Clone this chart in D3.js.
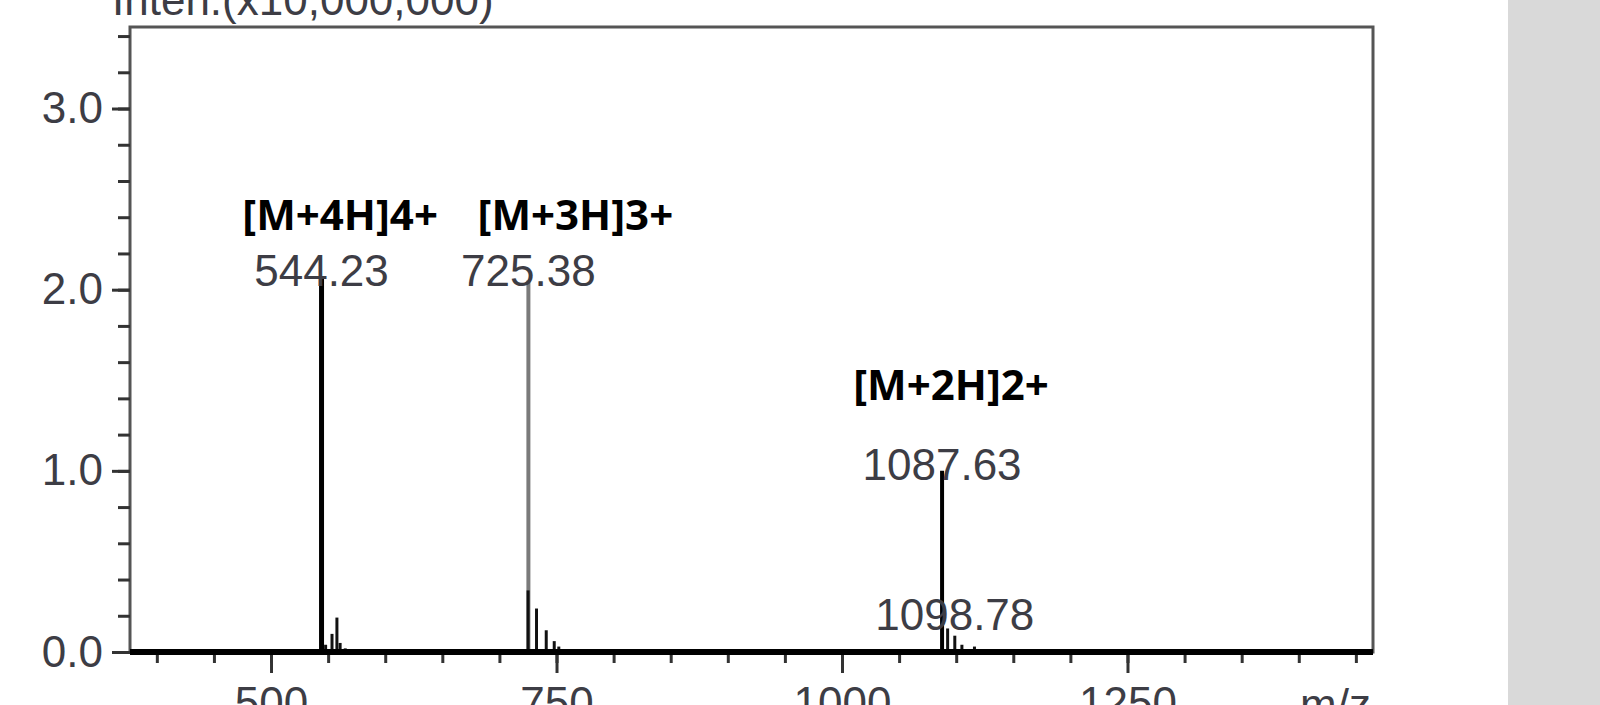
<!DOCTYPE html>
<html>
<head>
<meta charset="utf-8">
<script src="https://cdn.jsdelivr.net/npm/d3@7"></script>
<style>
  html, body { margin: 0; padding: 0; background: #fff; overflow: hidden; }
  svg { display: block; }
</style>
</head>
<body>
<div id="chart"></div>
<script>
// spectrum sticks (m/z, intensity in units of 10,000,000)
const mainMz = [544.23, 725.38, 1087.63];
const mainInten = [2.07, 2.05, 1.0];

const minorMz = [547.8, 553.4, 557.7, 560.5, 565.0,
                 725.1, 732.5, 741.0, 748.0, 752.0,
                 1092.5, 1098.78, 1105.0, 1116.0];
const minorInten = [0.04, 0.1, 0.19, 0.05, 0.02,
                    0.34, 0.24, 0.12, 0.06, 0.03,
                    0.13, 0.09, 0.04, 0.03];

// peak labels (m/z text, height of baseline in data units)
const peakLabelMz = [544.23, 725.38, 1087.63, 1098.78];
const peakLabelText = ["544.23", "725.38", "1087.63", "1098.78"];
const peakLabelAt = [2.02, 2.02, 0.95, 0.12];

// ion annotations
const ionText = ["[M+4H]4+", "[M+3H]3+", "[M+2H]2+"];
const ionMz = [560.5, 766.5, 1095.5];
const ionAt = [2.33, 2.33, 1.39];

// axis ticks
const xMajor = [500, 750, 1000, 1250];
const xMinor = d3.range(400, 1451, 50);
const yMajor = [0, 1, 2, 3];
const yMinor = d3.range(0, 3.41, 0.2);

const width = 1600;
const height = 705;
const frame = { left: 130, right: 1373, top: 27, bottom: 652 };

const svg = d3.select("#chart")
  .append("svg")
    .attr("width", width)
    .attr("height", height)
    .attr("viewBox", `0 0 ${width} ${height}`);

// grey panel on the right
svg.append("rect")
  .attr("x", 1508).attr("y", 0)
  .attr("width", width - 1508).attr("height", height)
  .attr("fill", "#d9d9d9");

const x = d3.scaleLinear().domain([376.5, 1465]).range([frame.left, frame.right]);
const y = d3.scaleLinear().domain([0, 3.45]).range([frame.bottom, frame.top]);

const labelFont = "'Liberation Sans', Arial, sans-serif";
const labelColor = "#3d3d45";

// frame
svg.append("rect")
  .attr("x", frame.left).attr("y", frame.top)
  .attr("width", frame.right - frame.left)
  .attr("height", frame.bottom - frame.top)
  .attr("fill", "none")
  .attr("stroke", "#555")
  .attr("stroke-width", 3);

// y axis minor + major ticks
const yMinorAxis = svg.append("g")
  .attr("transform", `translate(${frame.left},0)`)
  .call(d3.axisLeft(y).tickValues(yMinor).tickSize(12).tickFormat(""));

const yAxis = svg.append("g")
  .attr("transform", `translate(${frame.left},0)`)
  .call(d3.axisLeft(y).tickValues(yMajor).tickSize(18).tickPadding(9)
    .tickFormat(d3.format(".1f")));

// x axis minor + major ticks
const xMinorAxis = svg.append("g")
  .attr("transform", `translate(0,${frame.bottom})`)
  .call(d3.axisBottom(x).tickValues(xMinor).tickSize(11).tickFormat(""));

const xAxis = svg.append("g")
  .attr("transform", `translate(0,${frame.bottom})`)
  .call(d3.axisBottom(x).tickValues(xMajor).tickSize(21).tickPadding(14)
    .tickFormat(d3.format("d")));

[yMinorAxis, yAxis, xMinorAxis, xAxis].forEach(g => {
  g.select(".domain").remove();
  g.selectAll(".tick line").attr("stroke", "#333").attr("stroke-width", 3);
  g.selectAll("text")
    .attr("fill", labelColor)
    .style("font-family", labelFont)
    .style("font-size", "44px");
});

// spectrum sticks
svg.append("g")
  .selectAll("line")
  .data(mainMz.map((d, i) => [d, mainInten[i]]))
  .join("line")
    .attr("x1", d => x(d[0])).attr("x2", d => x(d[0]))
    .attr("y1", y(0)).attr("y2", d => y(d[1]))
    .attr("stroke", (d, i) => i === 1 ? "#7a7a7a" : "#000")
    .attr("stroke-width", (d, i) => i === 0 ? 5 : 4);

svg.append("g")
  .selectAll("line")
  .data(minorMz.map((d, i) => [d, minorInten[i]]))
  .join("line")
    .attr("x1", d => x(d[0])).attr("x2", d => x(d[0]))
    .attr("y1", y(0)).attr("y2", d => y(d[1]))
    .attr("stroke", "#111")
    .attr("stroke-width", 3);

// baseline (thick)
svg.append("line")
  .attr("x1", frame.left).attr("x2", frame.right)
  .attr("y1", frame.bottom).attr("y2", frame.bottom)
  .attr("stroke", "#000")
  .attr("stroke-width", 6);

// peak value labels
svg.append("g")
  .selectAll("text")
  .data(peakLabelText)
  .join("text")
    .attr("x", (d, i) => x(peakLabelMz[i]))
    .attr("y", (d, i) => y(peakLabelAt[i]))
    .attr("text-anchor", "middle")
    .attr("fill", labelColor)
    .style("font-family", labelFont)
    .style("font-size", "44px")
    .text(d => d);

// ion annotations
svg.append("g")
  .selectAll("text")
  .data(ionText)
  .join("text")
    .attr("x", (d, i) => x(ionMz[i]))
    .attr("y", (d, i) => y(ionAt[i]))
    .attr("text-anchor", "middle")
    .attr("fill", "#000")
    .style("font-family", "'Noto Sans', 'Open Sans', sans-serif")
    .style("font-weight", "bold")
    .style("font-size", "42px")
    .text(d => d);

// axis titles (partly cut by the picture edge)
svg.append("text")
  .attr("x", 112).attr("y", 15)
  .attr("fill", labelColor)
  .style("font-family", labelFont)
  .style("font-size", "44px")
  .text("Inten.(x10,000,000)");

svg.append("text")
  .attr("x", 1300).attr("y", 720)
  .attr("fill", labelColor)
  .style("font-family", labelFont)
  .style("font-size", "44px")
  .text("m/z");
</script>
</body>
</html>
